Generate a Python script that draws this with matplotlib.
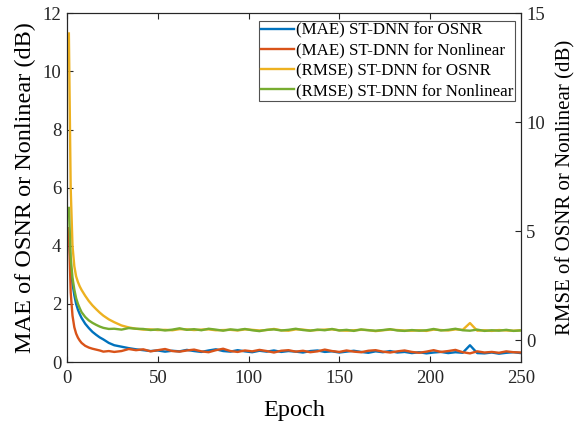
import matplotlib
matplotlib.use("Agg")
import matplotlib.pyplot as plt
import numpy as np

plt.rcParams['font.family'] = ['Liberation Serif', 'DejaVu Serif']

epochs = [1, 2, 3, 4, 5, 6, 7, 8, 10, 12, 14, 16, 18, 20, 23, 26, 30, 34, 38,
          42, 46, 50, 54, 58, 62, 66, 70, 74, 78, 82, 86, 90, 94, 98, 102, 106, 110,
          114, 118, 122, 126, 130, 134, 138, 142, 146, 150, 154, 158, 162, 166, 170,
          174, 178, 182, 186, 190, 194, 198, 202, 206, 210, 214, 218, 222, 226, 230,
          234, 238, 242, 246, 250]

# MAE (left axis, dB)
mae_osnr = [4.6, 3.3, 2.7, 2.3, 2.0, 1.8, 1.65, 1.52, 1.32, 1.17, 1.04, 0.94, 0.85, 0.78, 0.66, 0.58, 0.53, 0.48, 0.44,
            0.41, 0.38, 0.40, 0.36, 0.39, 0.37, 0.42, 0.38, 0.35, 0.40, 0.44, 0.38, 0.36, 0.41, 0.37, 0.34, 0.39, 0.36,
            0.40, 0.35, 0.38, 0.36, 0.33, 0.38, 0.40, 0.35, 0.37, 0.33, 0.36, 0.39, 0.35, 0.32, 0.37,
            0.34, 0.38, 0.33, 0.35, 0.31, 0.34, 0.30, 0.33, 0.35, 0.31, 0.34, 0.32, 0.58, 0.31, 0.30,
            0.33, 0.29, 0.32, 0.34, 0.31]
mae_nonlin = [4.6, 2.4, 1.6, 1.2, 0.98, 0.84, 0.74, 0.66, 0.56, 0.50, 0.46, 0.43, 0.40, 0.36, 0.38, 0.35, 0.38, 0.45, 0.41,
              0.44, 0.37, 0.41, 0.45, 0.38, 0.36, 0.40, 0.43, 0.37, 0.34, 0.41, 0.46, 0.38, 0.35, 0.40, 0.37, 0.42, 0.38,
              0.33, 0.39, 0.41, 0.36, 0.39, 0.34, 0.37, 0.43, 0.38, 0.35, 0.40, 0.36, 0.34, 0.39, 0.41,
              0.36, 0.33, 0.37, 0.40, 0.35, 0.32, 0.36, 0.41, 0.35, 0.38, 0.42, 0.34, 0.30, 0.37, 0.33,
              0.35, 0.32, 0.37, 0.34, 0.33]

# RMSE (right axis, dB)
rmse_osnr = [14.07, 7.0, 4.33, 3.4, 2.93, 2.67, 2.47, 2.31, 2.04, 1.8, 1.6, 1.43, 1.27, 1.13, 0.96, 0.83, 0.68, 0.59, 0.53,
             0.49, 0.50, 0.47, 0.48, 0.46, 0.51, 0.50, 0.47, 0.49, 0.50, 0.46, 0.47, 0.48, 0.45, 0.50, 0.48, 0.45, 0.47,
             0.52, 0.46, 0.44, 0.50, 0.49, 0.45, 0.47, 0.49, 0.50, 0.46, 0.44, 0.46, 0.48, 0.47, 0.42,
             0.46, 0.49, 0.47, 0.45, 0.44, 0.46, 0.43, 0.49, 0.47, 0.45, 0.50, 0.48, 0.79, 0.44, 0.46,
             0.43, 0.47, 0.45, 0.44, 0.46]
rmse_nonlin = [6.07, 3.8, 2.87, 2.33, 1.93, 1.67, 1.47, 1.29, 1.07, 0.91, 0.80, 0.71, 0.63, 0.57, 0.52, 0.53, 0.49, 0.56, 0.53,
               0.52, 0.47, 0.50, 0.45, 0.49, 0.55, 0.48, 0.51, 0.46, 0.53, 0.49, 0.44, 0.50, 0.47, 0.52, 0.46, 0.42, 0.48,
               0.50, 0.45, 0.48, 0.53, 0.47, 0.44, 0.49, 0.46, 0.52, 0.45, 0.48, 0.43, 0.50, 0.46, 0.44,
               0.47, 0.51, 0.45, 0.43, 0.47, 0.44, 0.46, 0.52, 0.45, 0.48, 0.53, 0.46, 0.44, 0.49, 0.43,
               0.46, 0.44, 0.48, 0.43, 0.45]

labels = ['(MAE) ST-DNN for OSNR', '(MAE) ST-DNN for Nonlinear',
          '(RMSE) ST-DNN for OSNR', '(RMSE) ST-DNN for Nonlinear']
colors = ['#0072BD', '#D95319', '#EDB120', '#77AC30']

fig = plt.figure(figsize=(5.78, 4.26), dpi=100)
ax = fig.add_axes([0.116, 0.150, 0.785, 0.819])
ax2 = ax.twinx()

h1, = ax.plot(epochs, mae_osnr, color=colors[0], lw=1.7, label=labels[0])
h2, = ax.plot(epochs, mae_nonlin, color=colors[1], lw=1.7, label=labels[1])
h3, = ax2.plot(epochs, rmse_osnr, color=colors[2], lw=1.7, label=labels[2])
h4, = ax2.plot(epochs, rmse_nonlin, color=colors[3], lw=1.7, label=labels[3])

ax.set_xlim(0, 250)
ax.set_ylim(0, 12)
ax2.set_ylim(-1, 15)
ax.set_xticks([0, 50, 100, 150, 200, 250])
ax.set_yticks([0, 2, 4, 6, 8, 10, 12])
ax2.set_yticks([0, 5, 10, 15])

edge = '#262626'
for a in (ax, ax2):
    for s in a.spines.values():
        s.set_color(edge)
        s.set_linewidth(0.8)
ax.tick_params(axis='x', direction='in', top=True, length=4, labelsize=13.5, colors=edge, pad=6)
ax.tick_params(axis='y', direction='in', length=4, labelsize=13.5, colors=edge, pad=4)
ax2.tick_params(axis='y', direction='in', length=4, labelsize=13.5, colors=edge, pad=4)

ax.set_xlabel('Epoch', fontsize=17.5, labelpad=9)
ax.set_ylabel('MAE of OSNR or Nonlinear (dB)', fontsize=17.5, labelpad=5)
ax2.set_ylabel('RMSE of OSNR or Nonlinear (dB)', fontsize=15, labelpad=8)

leg = ax2.legend(handles=[h1, h2, h3, h4], loc='upper right', bbox_to_anchor=(0.987, 0.977),
                 borderaxespad=0, fontsize=12.2, frameon=True, fancybox=False,
                 handlelength=2.0, handletextpad=0.1, labelspacing=0.25, borderpad=0.08)
leg.get_frame().set_edgecolor('#262626')
leg.get_frame().set_linewidth(0.8)

fig.savefig('out.png', dpi=100)
